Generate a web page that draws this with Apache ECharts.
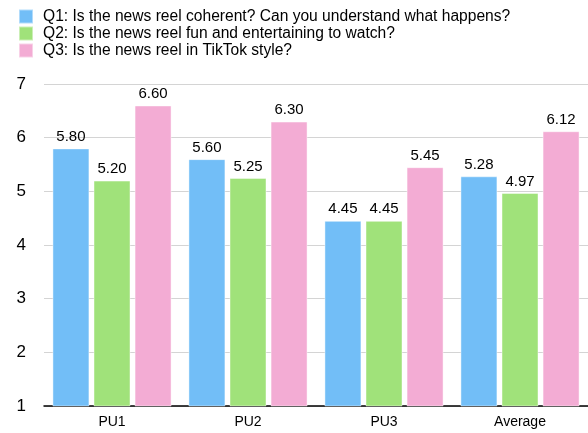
<!DOCTYPE html>
<html><head><meta charset="utf-8">
<script src="https://cdn.jsdelivr.net/npm/echarts@6/dist/echarts.min.js"></script>
<style>html,body{margin:0;padding:0;background:#fff}#c{width:588px;height:433px}</style>
</head><body><div id="c"></div>
<script>
const categories = ['PU1', 'PU2', 'PU3', 'Average'];
const seriesNames = [
  'Q1: Is the news reel coherent? Can you understand what happens?',
  'Q2: Is the news reel fun and entertaining to watch?',
  'Q3: Is the news reel in TikTok style?'
];
const q1 = [5.80, 5.60, 4.45, 5.28];
const q2 = [5.20, 5.25, 4.45, 4.97];
const q3 = [6.60, 6.30, 5.45, 6.12];
const colors = ['#72bef7', '#a0e27a', '#f3acd4'];
const font = 'Liberation Sans, Arial, Helvetica, sans-serif';

const chart = echarts.init(document.getElementById('c'));
const mk = (name, data, color) => ({
  name, type: 'bar', data, barWidth: 37, barGap: '11%',
  itemStyle: { color, borderColor: 'rgba(255,255,255,0.45)', borderWidth: 1 },
  label: { show: true, position: 'top', distance: 4, color: '#000', fontSize: 15, fontFamily: font,
    formatter: p => p.value.toFixed(2) }
});
chart.setOption({
  animation: false,
  textStyle: { fontFamily: font },
  legend: {
    orient: 'vertical', left: 13, top: 3, itemWidth: 14, itemHeight: 14, itemGap: 0,
    icon: 'rect', textStyle: { fontSize: 15.6, lineHeight: 17, padding: [0, 0, 0, 5], color: '#000', fontFamily: font },
    data: seriesNames
  },
  grid: { left: 44, right: 0, top: 84, bottom: 27 },
  xAxis: {
    type: 'category', data: categories,
    axisLine: { lineStyle: { color: '#000', width: 1.5 } },
    axisTick: { show: false },
    axisLabel: { color: '#000', fontSize: 14, margin: 9, fontFamily: font }
  },
  yAxis: {
    type: 'value', min: 1, max: 7, interval: 1,
    axisLine: { show: false }, axisTick: { show: false },
    axisLabel: { color: '#000', fontSize: 17, margin: 18, fontFamily: font },
    splitLine: { lineStyle: { color: '#d4d4d4' } }
  },
  series: [mk(seriesNames[0], q1, colors[0]), mk(seriesNames[1], q2, colors[1]), mk(seriesNames[2], q3, colors[2])]
});
</script></body></html>
